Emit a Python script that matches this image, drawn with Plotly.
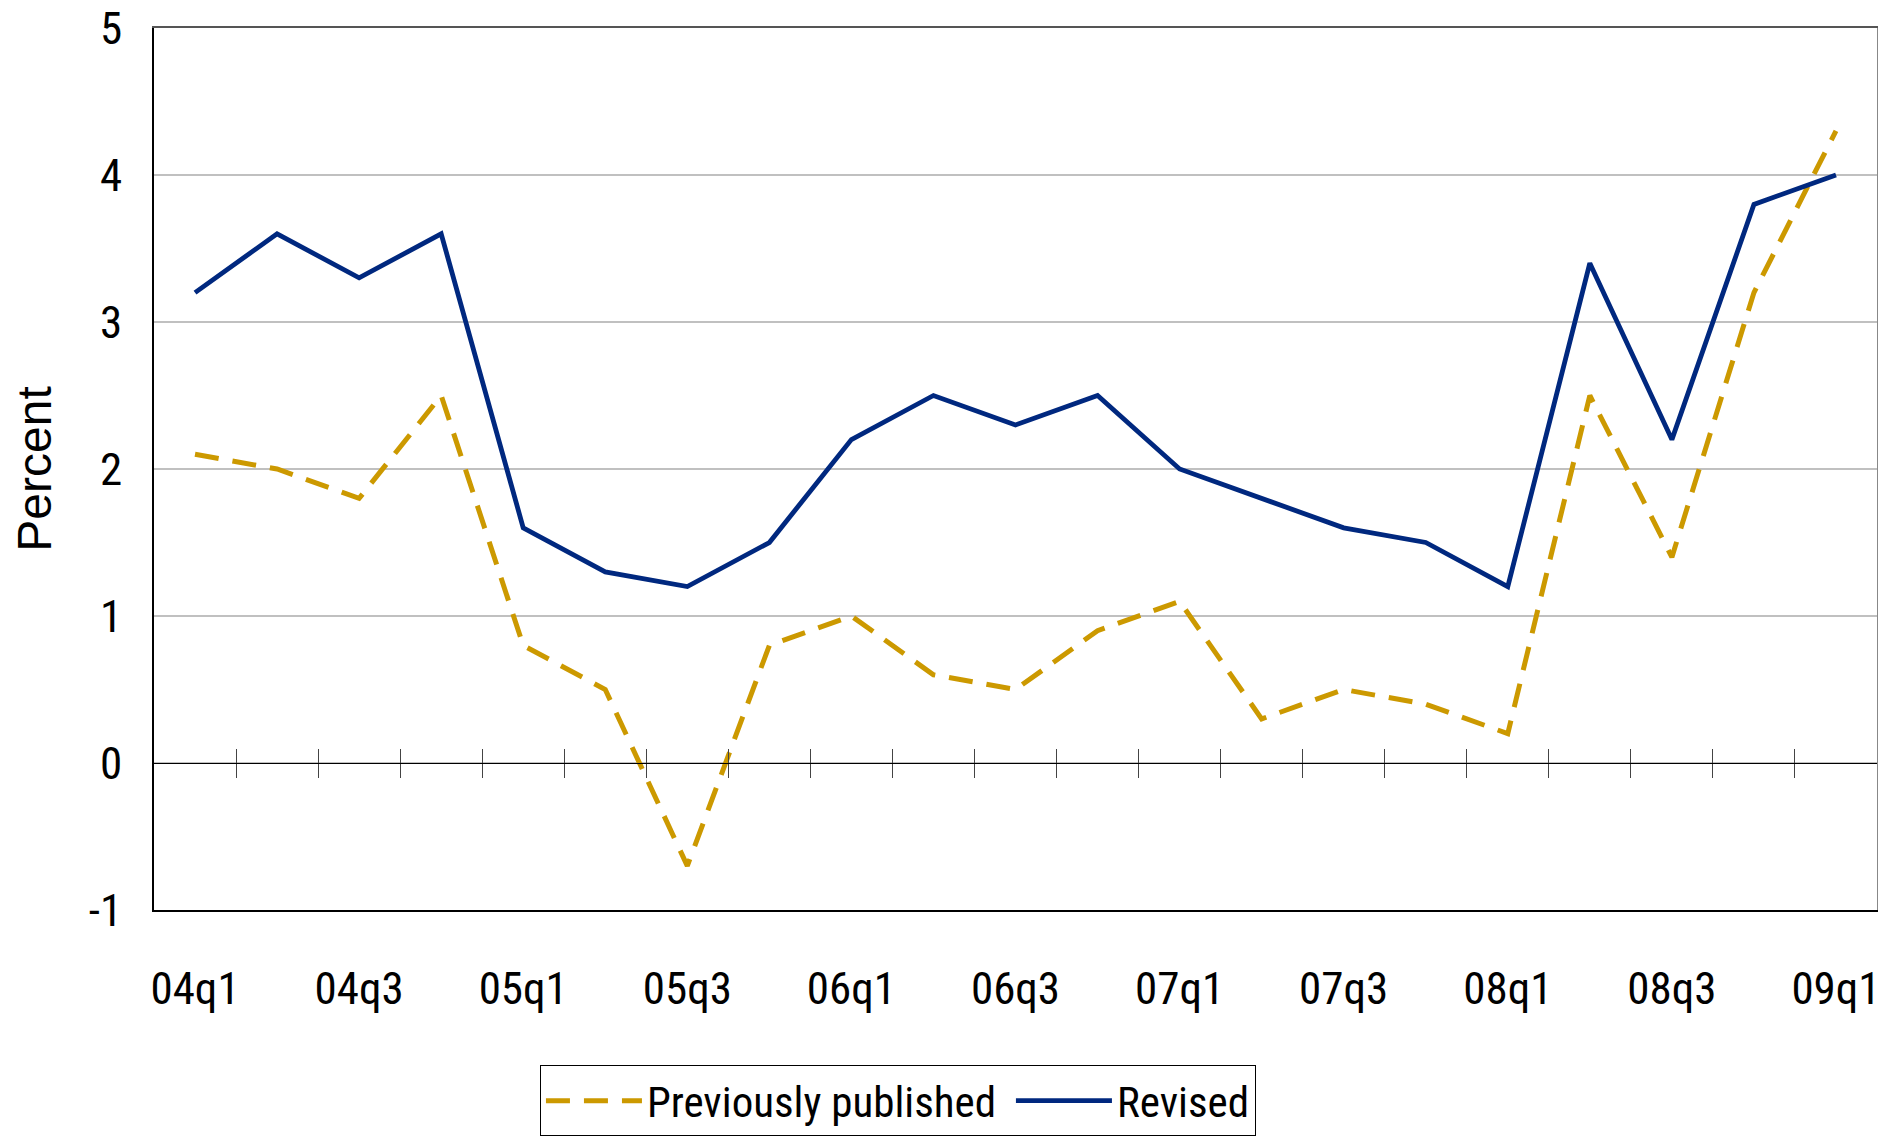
import plotly.graph_objects as go

# Quarterly series, percent
quarters = ["04q1", "04q2", "04q3", "04q4",
            "05q1", "05q2", "05q3", "05q4",
            "06q1", "06q2", "06q3", "06q4",
            "07q1", "07q2", "07q3", "07q4",
            "08q1", "08q2", "08q3", "08q4",
            "09q1"]
previously_published = [2.1, 2.0, 1.8, 2.5,
                        0.8, 0.5, -0.7, 0.8,
                        1.0, 0.6, 0.5, 0.9,
                        1.1, 0.3, 0.5, 0.4,
                        0.2, 2.5, 1.4, 3.2,
                        4.3]
revised = [3.2, 3.6, 3.3, 3.6,
           1.6, 1.3, 1.2, 1.5,
           2.2, 2.5, 2.3, 2.5,
           2.0, 1.8, 1.6, 1.5,
           1.2, 3.4, 2.2, 3.8,
           4.0]
y_ticks = [-1, 0, 1, 2, 3, 4, 5]
y_labels = ["-1", "0", "1", "2", "3", "4", "5"]

GOLD = "#CC9900"
NAVY = "#00287F"
NARROW = "Roboto Condensed, Liberation Sans Narrow, Arial Narrow, sans-serif"

fig = go.Figure()
fig.add_trace(go.Scatter(
    x=quarters, y=previously_published, mode="lines",
    name="Previously published\u00a0",
    line=dict(color=GOLD, width=5, dash="24px,14px"),
))
fig.add_trace(go.Scatter(
    x=quarters, y=revised, mode="lines",
    name="Revised",
    line=dict(color=NAVY, width=4.8),
))

# empty traces so the helper axes (zero line with ticks, top/right frame) get drawn
for xa, ya in [("x2", "y"), ("x3", "y"), ("x4", "y"), ("x", "y2")]:
    fig.add_trace(go.Scatter(x=[], y=[], xaxis=xa, yaxis=ya,
                             showlegend=False, hoverinfo="skip"))

n = len(quarters)
xrange = [-0.5, n - 0.5]
yrange = [y_ticks[0], y_ticks[-1]]
boundaries = [i + 0.5 for i in range(n - 1)]
zero_pos = (0 - y_ticks[0]) / (y_ticks[-1] - y_ticks[0])

# the page body adds an 8px offset, so the figure is 8px smaller each way
fig.update_layout(
    width=1887, height=1134,
    paper_bgcolor="white", plot_bgcolor="white",
    margin=dict(l=146, r=18, t=20, b=232, autoexpand=False),
    font=dict(family=NARROW, size=45, color="black"),
    showlegend=True,
    legend=dict(
        orientation="h", x=0.224, y=-0.176, xanchor="left", yanchor="top",
        bordercolor="black", borderwidth=1, bgcolor="white",
        font=dict(family=NARROW, size=43, color="black"),
        itemwidth=96,
    ),
    xaxis=dict(
        type="category", range=xrange, automargin=False,
        tickvals=quarters[::2], ticktext=quarters[::2],
        showgrid=False, showline=True, linecolor="black", linewidth=1.5,
        ticks="", ticklabelstandoff=38, zeroline=False,
    ),
    yaxis=dict(
        range=yrange, tickvals=y_ticks, ticktext=y_labels, automargin=False,
        ticklabeloverflow="allow",
        showgrid=True, gridcolor="#C0C0C0", gridwidth=2,
        showline=True, linecolor="black", linewidth=1.5,
        ticks="", ticklabelstandoff=21, zeroline=False,
        title=dict(text="Percent", standoff=43,
                   font=dict(family="Liberation Sans, Arial, sans-serif", size=48)),
    ),
    # zero line with crossing tick marks at the category boundaries
    xaxis2=dict(
        overlaying="x", anchor="free", position=zero_pos, side="bottom",
        range=xrange, tickvals=boundaries, showticklabels=False, automargin=False,
        ticks="outside", ticklen=14, tickcolor="#444", tickwidth=1,
        showline=True, linecolor="black", linewidth=1.2,
        showgrid=False, zeroline=False,
    ),
    xaxis3=dict(
        overlaying="x", anchor="free", position=zero_pos, side="top",
        range=xrange, tickvals=boundaries, showticklabels=False, automargin=False,
        ticks="outside", ticklen=14, tickcolor="#444", tickwidth=1,
        showline=False, showgrid=False, zeroline=False,
    ),
    # top and right frame
    xaxis4=dict(
        overlaying="x", anchor="y", side="top", range=xrange, automargin=False,
        showticklabels=False, ticks="", showline=True,
        linecolor="#555", linewidth=2, showgrid=False, zeroline=False,
    ),
    yaxis2=dict(
        overlaying="y", anchor="x", side="right", range=yrange, automargin=False,
        showticklabels=False, ticks="", showline=True,
        linecolor="#888", linewidth=1, showgrid=False, zeroline=False,
    ),
)

fig.write_html("out.html")
